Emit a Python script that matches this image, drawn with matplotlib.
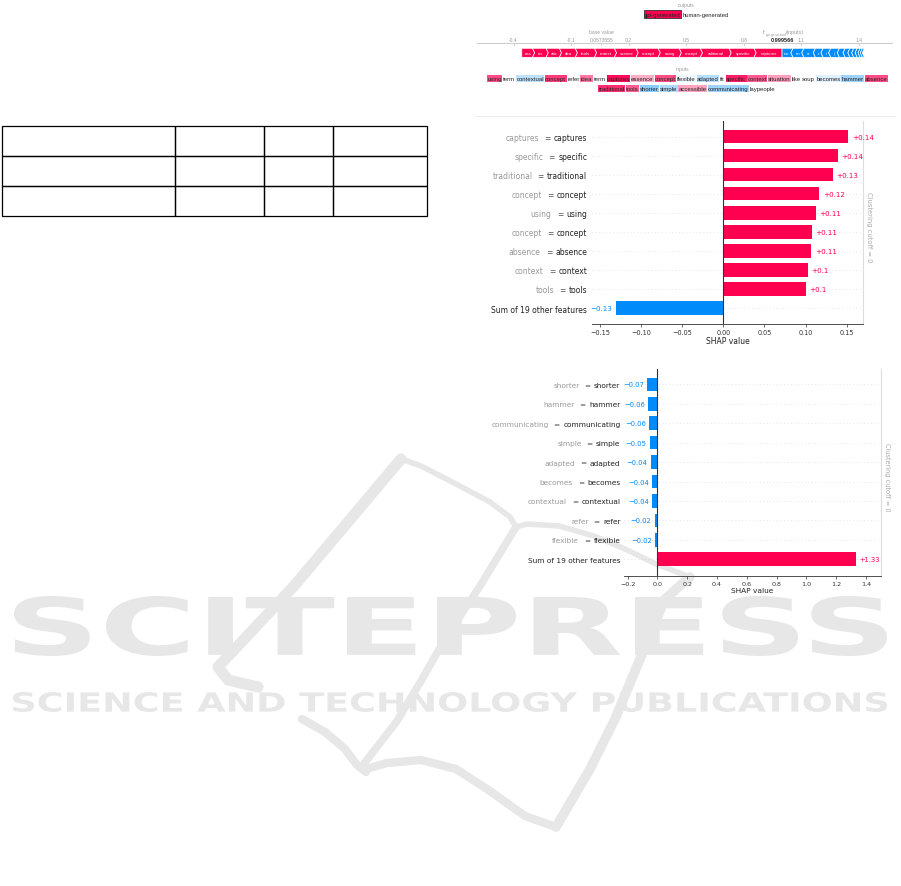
import numpy as np
import matplotlib
matplotlib.use("Agg")
import matplotlib.pyplot as plt
from matplotlib.patches import Polygon, Rectangle, PathPatch
from matplotlib.textpath import TextPath
from matplotlib.font_manager import FontProperties
from matplotlib.transforms import Affine2D

W, H = 901, 887
RED = "#ff0051"
BLUE = "#008bfb"

# ---- data: bar chart 1 (gpt-generated)
names1 = ["captures", "specific", "traditional", "concept", "using",
          "concept", "absence", "context", "tools", "Sum of 19 other features"]
vals1 = [0.152, 0.139, 0.133, 0.117, 0.113, 0.108, 0.107, 0.103, 0.100, -0.131]
text1 = ["+0.14", "+0.14", "+0.13", "+0.12", "+0.11", "+0.11", "+0.11", "+0.1", "+0.1", "\u22120.13"]

# ---- data: bar chart 2 (human-generated)
names2 = ["shorter", "hammer", "communicating", "simple", "adapted",
          "becomes", "contextual", "refer", "flexible", "Sum of 19 other features"]
vals2 = [-0.070, -0.061, -0.056, -0.052, -0.043, -0.034, -0.034, -0.018, -0.016, 1.33]
text2 = ["\u22120.07", "\u22120.06", "\u22120.06", "\u22120.05", "\u22120.04",
         "\u22120.04", "\u22120.04", "\u22120.02", "\u22120.02", "+1.33"]

# ---- data: text plot (force bar + tokens)
base_value = 0.0573555
f_value = 0.999566
force_ticks = [-0.4, -0.1, 0.0573555, 0.2, 0.5, 0.8, 1.1, 1.4]
force_ticklabels = ["-0.4", "-0.1", "0.0573555", "0.2", "0.5", "0.8", "1.1", "1.4"]
pos_labels = ["ess", "on", "atic", "dea", "tools", "ontext", "ssence", "oncept",
              "using", "oncept", "aditional", "specific", "captures"]
pos_vals = [0.056, 0.071, 0.069, 0.083, 0.100, 0.104, 0.113, 0.115,
            0.110, 0.110, 0.150, 0.130, 0.146]
neg_labels = ["ice", "m", "ui", "r", "i", "(", "", "", "", "", "", "", ""]
neg_vals = [0.057, 0.057, 0.060, 0.040, 0.040, 0.045, 0.030, 0.025,
            0.020, 0.018, 0.015, 0.012, 0.010]

tokens_row1 = ["using", "term", "contextual", "concept", "refer", "idea", "term",
               "captures", "essence", "concept", "flexible", "adapted", "fit",
               "specific", "context", "situation", "like", "soup", "becomes",
               "hammer", "absence"]
tvals_row1 = [0.11, 0.0, -0.04, 0.12, 0.0, 0.083, 0.0, 0.15, 0.05, 0.11, -0.01,
              -0.045, 0.0, 0.14, 0.10, 0.06, 0.0, 0.0, -0.02, -0.06, 0.11]
tokens_row2 = ["traditional", "tools", "shorter", "simple", "accessible",
               "communicating", "laypeople"]
tvals_row2 = [0.13, 0.10, -0.07, -0.05, 0.056, -0.06, 0.0]

fig = plt.figure(figsize=(W / 100, H / 100), dpi=100)
renderer = fig.canvas.get_renderer()


def px_axes(x0, y0, x1, y1, **kw):
    return fig.add_axes([x0 / W, 1 - y1 / H, (x1 - x0) / W, (y1 - y0) / H], **kw)


# background axes in pixel coords
bg = px_axes(0, 0, W, H, zorder=0)
bg.set_xlim(0, W)
bg.set_ylim(H, 0)
bg.axis("off")

# ---- watermark
WM = "#e6e7e6"


def stretched_text(s, x0, x1, ytop, ybot, weight):
    tp = TextPath((0, 0), s, size=100, prop=FontProperties(family="DejaVu Sans", weight=weight))
    ext = tp.get_extents()
    tr = (Affine2D().translate(-ext.x0, -ext.y0)
          .scale((x1 - x0) / ext.width, -(ybot - ytop) / ext.height)
          .translate(x0, ybot))
    bg.add_patch(PathPatch(tr.transform_path(tp), fc=WM, ec="none", zorder=0.5))


stretched_text("SCITEPRESS", 14, 887, 597, 657, "bold")
stretched_text("SCIENCE AND TECHNOLOGY PUBLICATIONS", 13, 887, 693, 713, "bold")
# book outline of the watermark (pixel coords, lw in points)
wm_lines = [
    ([(401, 460), (294, 587), (218, 668), (228, 681), (258, 688)], 8),
    ([(401, 460), (421, 467), (456, 485), (490, 503), (510, 518), (516, 528)], 4),
    ([(516, 528), (527, 525), (559, 527), (594, 537), (625, 550), (656, 565), (690, 578)], 4),
    ([(516, 528), (480, 587), (445, 640), (421, 682), (397, 722), (363, 766)], 5.5),
    ([(302, 720), (325, 733), (345, 750), (357, 766), (366, 773)], 6),
    ([(366, 770), (387, 764), (421, 761), (456, 770), (490, 792), (525, 817), (556, 828)], 6),
    ([(556, 828), (590, 770), (615, 720), (640, 660), (665, 600), (690, 578)], 7),
]
for ln, lw in wm_lines:
    xs, ys = zip(*ln)
    bg.plot(xs, ys, color=WM, lw=lw, solid_capstyle="round", solid_joinstyle="round", zorder=0.5)

# ---- empty table
tb = bg.table(cellText=[[""] * 4 for _ in range(3)],
              colWidths=[173 / 425, 89 / 425, 69 / 425, 94 / 425],
              bbox=[2 / W, 1 - 217 / H, 425 / W, 90 / H])
for c in tb.get_celld().values():
    c.set_linewidth(0.9)
    c.set_edgecolor("black")
    c.set_facecolor("none")

# faint border line above chart 1
bg.plot([475, 895], [117, 117], color="#eeeeee", lw=0.8)

# ---- text plot: outputs
TF = "Liberation Sans"
bg.text(686, 5, "outputs", fontsize=3.6, color="#999999", ha="center", va="center", family=TF)
bg.add_patch(Rectangle((644, 11), 37, 8, fc=RED, ec="#333333", lw=0.6))
bg.text(662.5, 15, "gpt-generated", fontsize=4.2, color="#222222", ha="center", va="center", family=TF)
bg.text(683, 15, "human-generated", fontsize=4.2, color="#222222", ha="left", va="center", family=TF)

# ---- force bar axes
axf = px_axes(477, 28, 893, 62, zorder=1)
axf.set_xlim(-0.591, 1.578)
axf.set_ylim(62, 28)
axf.axis("off")
axf.axhline(44, color="#cccccc", lw=0.8)
for v, lab in zip(force_ticks, force_ticklabels):
    axf.plot([v, v], [44, 45.5], color="#cccccc", lw=0.6)
    axf.text(v, 40.7, lab, fontsize=3.6, color="#999999", ha="center", va="center", family=TF)
axf.text(base_value, 32.3, "base value", fontsize=3.6, color="#999999", ha="center", va="center", family=TF)
axf.text(f_value - 0.095, 32.3, "f", fontsize=4.2, color="#999999", ha="center", va="center", family=TF)
axf.text(f_value - 0.085, 34.7, "gpt-generated", fontsize=2.4, color="#999999", ha="left", va="center", family=TF)
axf.text(f_value + 0.018, 32.3, "(inputs)", fontsize=3.8, color="#999999", ha="left", va="center", family=TF)
axf.text(f_value, 40.7, "0.999566", fontsize=4.0, color="#222222", ha="center", va="center",
         family=TF, weight="bold")

top, bot, mid = 49.3, 58.3, 53.8
d = 0.011
cum = f_value - sum(pos_vals)
for i, (lab, v) in enumerate(zip(pos_labels, pos_vals)):
    x0, x1 = cum, cum + v
    tip = 0 if i == len(pos_vals) - 1 else d
    pts = [(x0, top), (x1, top), (x1 + tip, mid), (x1, bot), (x0, bot), (x0 + (d if i else 0), mid)]
    axf.add_patch(Polygon(pts, closed=True, fc=RED, ec="white", lw=0.5))
    axf.text((x0 + x1) / 2 + d / 2, mid, lab, fontsize=3.2, color="white", ha="center", va="center", family=TF)
    cum = x1
cum = f_value
for i, (lab, v) in enumerate(zip(neg_labels, neg_vals)):
    x0, x1 = cum, cum + v
    pts = [(x0, top), (x1, top), (x1 - d, mid), (x1, bot), (x0, bot), (x0 - (d if i else 0), mid)]
    axf.add_patch(Polygon(pts, closed=True, fc=BLUE, ec="white", lw=0.5))
    if lab:
        axf.text((x0 + x1) / 2 - d / 2, mid, lab, fontsize=3.2, color="white", ha="center", va="center", family=TF)
    cum = x1

# ---- inputs tokens
bg.text(682, 69, "inputs", fontsize=3.6, color="#999999", ha="center", va="center", family=TF)


def token_color(v):
    a = min(abs(v) / 0.15, 1.0) * 0.95
    base = np.array([1.0, 0.0, 0.318]) if v > 0 else np.array([0.0, 0.545, 0.984])
    return tuple(1 - a * (1 - base))


def token_row(tokens, vals, y, xc, fs=4.3, gap=1.2):
    texts, widths = [], []
    for t in tokens:
        tx = bg.text(0, y, t, fontsize=fs, color="#222222", ha="left", va="center", family=TF, zorder=3)
        texts.append(tx)
        widths.append(tx.get_window_extent(renderer).width)
    total = sum(widths) + gap * (len(tokens) - 1)
    x = xc - total / 2
    for tx, w, v in zip(texts, widths, vals):
        tx.set_x(x)
        if abs(v) > 0.005:
            bg.add_patch(Rectangle((x - 0.4, y - 3.7), w + 0.8, 7.4, fc=token_color(v), ec="none", zorder=2))
        x += w + gap


token_row(tokens_row1, tvals_row1, 79.3, 687.5)
token_row(tokens_row2, tvals_row2, 89.3, 687)


# ---- SHAP bar charts
def shap_bar(ax, names, vals, labels, xlim, ylim, ticks, pad, cut_x, cut_y, fs_lab, fs_tick):
    ax.set_facecolor("none")
    y = np.arange(len(names))
    colors = [RED if v > 0 else BLUE for v in vals]
    for yi in y:
        ax.axhline(yi, color="#cccccc", lw=0.5, dashes=(1, 4), zorder=-1)
    ax.barh(y, vals, height=0.7, color=colors, zorder=2)
    ax.axvline(0, color="#333333", lw=0.8, zorder=3)
    ax.set_xlim(*xlim)
    ax.set_ylim(*ylim)
    ax.set_xticks(ticks)
    ax.set_yticks(y)
    ax.set_yticklabels(names, fontsize=fs_lab, color="#222222")
    ax.tick_params(axis="y", length=0, pad=pad)
    ax.tick_params(axis="x", labelsize=fs_tick, length=2, width=0.5, pad=1.5, colors="#333333")
    for s in ["top", "right", "left"]:
        ax.spines[s].set_visible(False)
    ax.spines["bottom"].set_linewidth(0.6)
    ax.spines["bottom"].set_color("#333333")
    ax.set_xlabel("SHAP value", fontsize=fs_lab, labelpad=1, color="#222222")
    for yi, v, t in zip(y, vals, labels):
        ax.annotate(t, xy=(v, yi), xytext=(2.5 if v > 0 else -2.5, 0), textcoords="offset points",
                    ha="left" if v > 0 else "right", va="center", fontsize=fs_lab - 0.4,
                    color=RED if v > 0 else BLUE)
    fig.canvas.draw()
    for tl, nm in zip(ax.get_yticklabels()[:-1], names[:-1]):
        eq = ax.annotate("=", xy=(0, 0.5), xycoords=tl, xytext=(-2.4, 0), textcoords="offset points",
                         ha="right", va="center", fontsize=fs_lab, color="#555555")
        ax.annotate(nm, xy=(0, 0.5), xycoords=eq, xytext=(-3.6, 0), textcoords="offset points",
                    ha="right", va="center", fontsize=fs_lab, color="#999999")
    ax.axvline(xlim[1], color="#dddddd", lw=0.8, clip_on=False)
    ax.text(cut_x, cut_y, "Clustering cutoff = 0", transform=ax.transData, rotation=-90,
            fontsize=fs_lab - 0.6, color="#aaaaaa", ha="center", va="center", clip_on=False)


ax1 = px_axes(592, 122, 863, 325, zorder=2)
shap_bar(ax1, names1, vals1, text1, (-0.160, 0.170), (9.84, -0.825),
         [-0.15, -0.10, -0.05, 0.0, 0.05, 0.10, 0.15], 3.4, 0.1775, 4.7, 5.5, 4.7)

ax2 = px_axes(624, 370, 881, 577, zorder=2)
shap_bar(ax2, names2, vals2, text2, (-0.2245, 1.50), (9.86, -0.79),
         [-0.2, 0.0, 0.2, 0.4, 0.6, 0.8, 1.0, 1.2, 1.4], 2.6, 1.537, 4.75, 5.3, 4.6)

fig.savefig("out.png", dpi=100)
